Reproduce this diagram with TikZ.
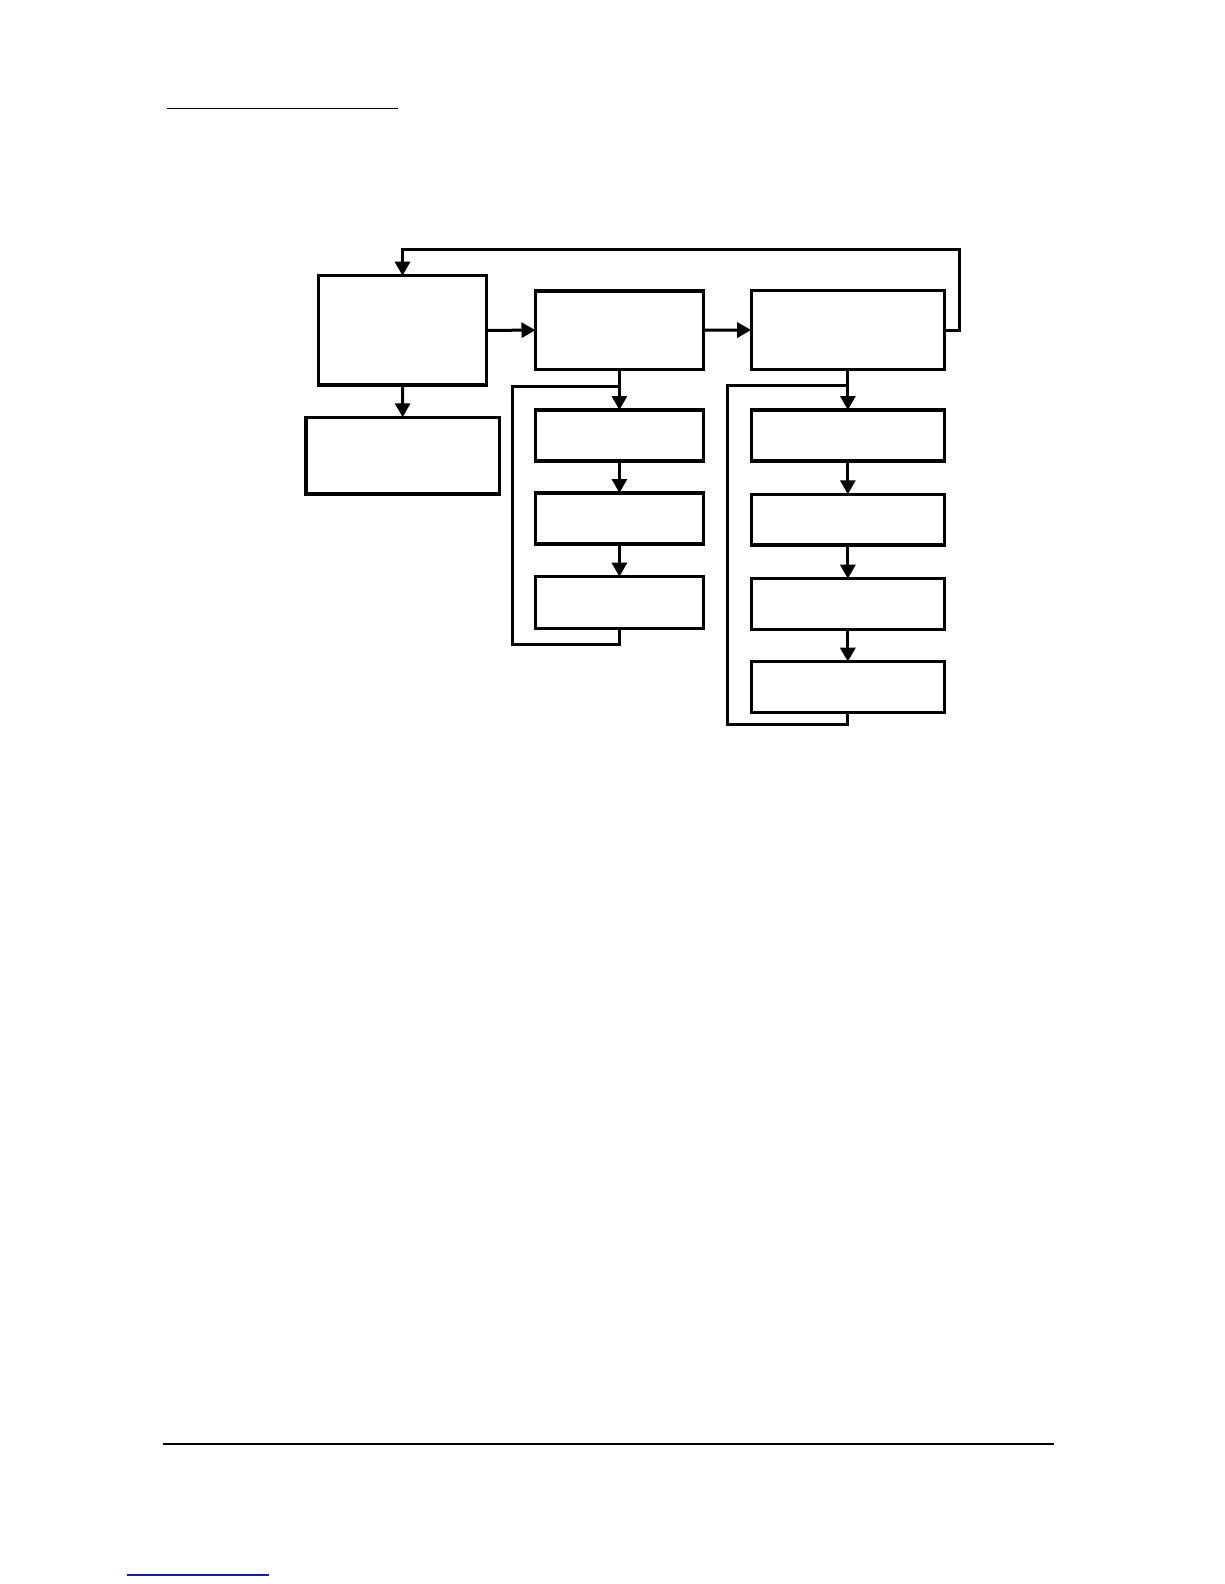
\documentclass[tikz,border=0pt]{standalone}
\usetikzlibrary{arrows.meta}
\begin{document}
\begin{tikzpicture}[x=1pt,y=-1pt,
  box/.style={draw,line width=3.2pt,inner sep=0pt,outer sep=0pt},
  arr/.style={line width=3pt,-{Triangle[length=14pt,width=15pt]}},
  conn/.style={line width=3pt,line join=miter},
  rule/.style={line width=1.4pt}]
\useasboundingbox[fill=white] (0,0) rectangle (1224,1584);
% rules
\coordinate (t1) at (167,108.5); \coordinate (t2) at (398,108.5);
\draw[rule] (t1) -- (t2);
\coordinate (b1) at (162.7,1444); \coordinate (b2) at (1054,1444);
\draw[rule] (b1) -- (b2);
\coordinate (u1) at (127.3,1575); \coordinate (u2) at (269,1575);
\draw[line width=1.8pt,color={rgb,255:red,20;green,30;blue,150}] (u1) -- (u2);
% boxes
\node[box,minimum width=168.4pt,minimum height=109.3pt] (a) at (402.5,330.35) {};
\node[box,minimum width=193.3pt,minimum height=76.7pt] (b) at (402.65,455.65) {};
\node[box,minimum width=167.8pt,minimum height=78.3pt] (c) at (619.4,330.15) {};
\node[box,minimum width=193.3pt,minimum height=78.6pt] (d) at (847.85,330) {};
\node[box,minimum width=167.8pt,minimum height=51pt] (c1) at (619.4,435.5) {};
\node[box,minimum width=167.8pt,minimum height=51pt] (c2) at (619.4,518.5) {};
\node[box,minimum width=167.8pt,minimum height=51.6pt] (c3) at (619.4,602.5) {};
\node[box,minimum width=193.3pt,minimum height=51pt] (d1) at (847.85,435.5) {};
\node[box,minimum width=193.3pt,minimum height=50.7pt] (d2) at (847.85,519.65) {};
\node[box,minimum width=193.3pt,minimum height=50.6pt] (d3) at (847.85,604) {};
\node[box,minimum width=193.3pt,minimum height=50.6pt] (d4) at (847.85,687) {};
% main arrows
\draw[arr] (a.east) -- (c.west);
\draw[arr] (c.east) -- (d.west);
\draw[arr] (a.south) -- (b.north);
\coordinate (fb) at (959.3,249);
\draw[arr] (d.east) -| (fb) -| (a.north);
% column C
\draw[arr] (c.south) -- (c1.north);
\draw[arr] (c1.south) -- (c2.north);
\draw[arr] (c2.south) -- (c3.north);
\coordinate (cl1) at (512.5,644.3); \coordinate (cl2) at (512.5,386);
\draw[conn] (c3.south) |- (cl1) -- (cl2) -- (c.south |- cl2);
% column D
\draw[arr] (d.south) -- (d1.north);
\draw[arr] (d1.south) -- (d2.north);
\draw[arr] (d2.south) -- (d3.north);
\draw[arr] (d3.south) -- (d4.north);
\coordinate (dl1) at (727.3,724); \coordinate (dl2) at (727.3,385.7);
\draw[conn] (d4.south) |- (dl1) -- (dl2) -- (d.south |- dl2);
\end{tikzpicture}
\end{document}
